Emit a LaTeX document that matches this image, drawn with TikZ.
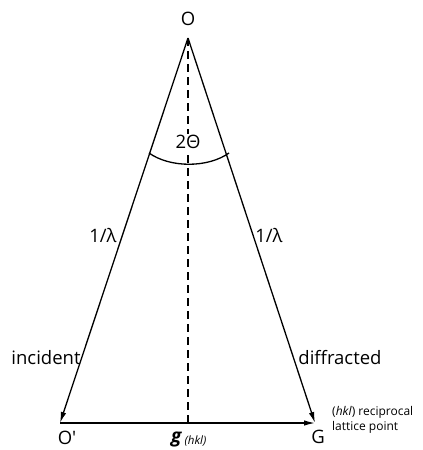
\documentclass[tikz,border=0pt]{standalone}
\usepackage{fontspec}
\setmainfont{Open Sans}
\usetikzlibrary{arrows.meta}
\begin{document}
\begin{tikzpicture}[x=1pt,y=-1pt,
  line/.style={line width=1.3pt},
  vec/.style={line width=1.3pt,-{Latex[length=11pt,width=5.5pt]}},
  lbl/.style={inner sep=0pt,font=\fontsize{18.5}{21}\selectfont},
  small/.style={inner sep=0pt,font=\fontsize{12}{15}\selectfont,align=left}]
\useasboundingbox (0,0) rectangle (423,450);
% vertices of the scattering triangle
\coordinate (apex) at (188,38);
\coordinate (left) at (60,423);
\coordinate (right) at (315,423);
\coordinate (foot) at (188,423);
% rays and scattering vector
\draw[vec] (apex) -- (left);
\draw[vec] (apex) -- (right);
\draw[vec] (left) -- (right);
\draw[line,dash pattern=on 8pt off 5pt] (apex) -- (foot);
% angle arc
\coordinate (arcL) at (149,153);
\coordinate (arcR) at (229,153);
\draw[line] (arcL) .. controls (170,168) and (208,168) .. (arcR);
% labels
\node[lbl] (O) at (188,19) {O};
\node[lbl,fill=white,inner sep=1pt] (twotheta) at (188,142) {2Θ};
\node[lbl] (lamL) at (103,236) {1/λ};
\node[lbl] (lamR) at (269,236) {1/λ};
\node[lbl] (inc) at (46,358) {incident};
\node[lbl] (dif) at (340,358) {diffracted};
\node[lbl] (Op) at (67,438) {O′};
\node[lbl] (G) at (318,437) {G};
\node[inner sep=0pt,anchor=base west] (g) at (171,442) {\fontsize{19}{21}\selectfont\bfseries\itshape g\,\raisebox{-2pt}{\fontsize{11.5}{13}\selectfont\mdseries\itshape(hkl)}};
\node[small,anchor=west] (rlp) at (332,420) {(\textit{hkl}) reciprocal\\lattice point};
\end{tikzpicture}
\end{document}
